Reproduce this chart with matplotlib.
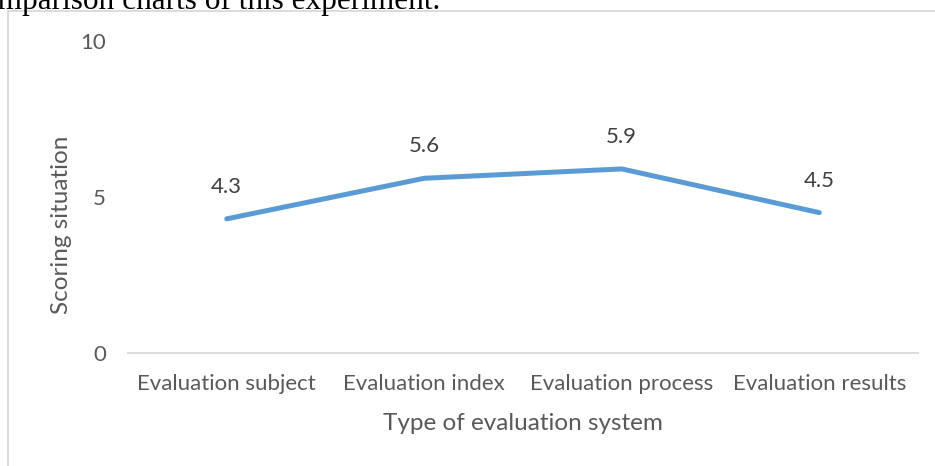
import matplotlib
matplotlib.use("Agg")
import matplotlib.pyplot as plt
from matplotlib.patches import Rectangle

categories = ["Evaluation subject", "Evaluation index", "Evaluation process", "Evaluation results"]
scores = [4.3, 5.6, 5.9, 4.5]
yticks = [0, 5, 10]

W, H = 935, 466
fig = plt.figure(figsize=(W / 100, H / 100), dpi=100)
plt.rcParams['font.family'] = ['Lato', 'DejaVu Sans']

def px(x0, y0, x1, y1):
    return [x0 / W, 1 - y1 / H, (x1 - x0) / W, (y1 - y0) / H]

# chart frame
fig.patches.append(Rectangle((8 / W, -0.1), 2.0, 1 - 11 / H + 0.1, transform=fig.transFigure,
                             fill=False, edgecolor='#D9D9D9', linewidth=1.3))

# cut-off caption text above chart
fig.text(440 / W, 1 - 9 / H, "comparison charts of this experiment.", ha='right', va='baseline',
         fontsize=22.5, family=['Liberation Serif'], color='black')

ax = fig.add_axes(px(128, 41, 918, 353))
x = list(range(len(categories)))
ax.plot(x, scores, color='#5B9BD5', linewidth=3.6, solid_capstyle='round', solid_joinstyle='round')
for xi, v in zip(x, scores):
    ax.annotate(f"{v}", (xi, v), xytext=(0, 26), textcoords='offset pixels',
                ha='center', va='baseline', fontsize=16, color='#404040')

ax.set_xlim(-0.5, len(categories) - 0.5)
ax.set_ylim(0, 10)
ax.set_yticks(yticks)
ax.set_yticklabels([str(t) for t in yticks])
ax.set_xticks(x)
ax.set_xticklabels(categories)
ax.tick_params(axis='both', length=0, labelsize=16, labelcolor='#595959')
ax.tick_params(axis='y', pad=16)
ax.tick_params(axis='x', pad=15)
for s in ['top', 'right', 'left']:
    ax.spines[s].set_visible(False)
ax.spines['bottom'].set_color('#D9D9D9')
ax.spines['bottom'].set_linewidth(1.3)
ax.set_facecolor('none')

fig.text(523 / W, 1 - 424 / H, "Type of evaluation system", ha='center', va='center',
         fontsize=17.5, color='#595959')
fig.text(61 / W, 1 - 225 / H, "Scoring situation", ha='center', va='center',
         rotation=90, fontsize=17.5, color='#595959')

fig.savefig("out.png", dpi=100)
